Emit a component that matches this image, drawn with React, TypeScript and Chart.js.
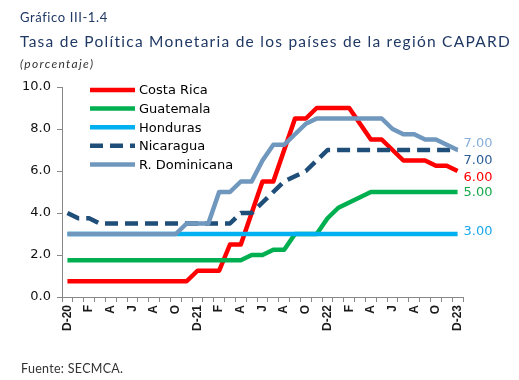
import React, { useEffect, useRef } from "react";
import { Chart, registerables } from "chart.js";

Chart.register(...registerables);

// ---------------- data ----------------
const categories = [
  "D-20", "E-21", "F-21", "M-21", "A-21", "M-21", "J-21", "J-21", "A-21", "S-21", "O-21", "N-21",
  "D-21", "E-22", "F-22", "M-22", "A-22", "M-22", "J-22", "J-22", "A-22", "S-22", "O-22", "N-22",
  "D-22", "E-23", "F-23", "M-23", "A-23", "M-23", "J-23", "J-23", "A-23", "S-23", "O-23", "N-23",
  "D-23",
];

const tickLabels = [
  "D-20", "", "F", "", "A", "", "J", "", "A", "", "O", "",
  "D-21", "", "F", "", "A", "", "J", "", "A", "", "O", "",
  "D-22", "", "F", "", "A", "", "J", "", "A", "", "O", "",
  "D-23",
];

const seriesNames = ["Costa Rica", "Guatemala", "Honduras", "Nicaragua", "R. Dominicana"];

const costaRica = [
  0.75, 0.75, 0.75, 0.75, 0.75, 0.75, 0.75, 0.75, 0.75, 0.75, 0.75, 0.75,
  1.25, 1.25, 1.25, 2.5, 2.5, 4.0, 5.5, 5.5, 7.0, 8.5, 8.5, 9.0,
  9.0, 9.0, 9.0, 8.25, 7.5, 7.5, 7.0, 6.5, 6.5, 6.5, 6.25, 6.25,
  6.0,
];

const guatemala = [
  1.75, 1.75, 1.75, 1.75, 1.75, 1.75, 1.75, 1.75, 1.75, 1.75, 1.75, 1.75,
  1.75, 1.75, 1.75, 1.75, 1.75, 2.0, 2.0, 2.25, 2.25, 3.0, 3.0, 3.0,
  3.75, 4.25, 4.5, 4.75, 5.0, 5.0, 5.0, 5.0, 5.0, 5.0, 5.0, 5.0,
  5.0,
];

const honduras = [
  3.0, 3.0, 3.0, 3.0, 3.0, 3.0, 3.0, 3.0, 3.0, 3.0, 3.0, 3.0,
  3.0, 3.0, 3.0, 3.0, 3.0, 3.0, 3.0, 3.0, 3.0, 3.0, 3.0, 3.0,
  3.0, 3.0, 3.0, 3.0, 3.0, 3.0, 3.0, 3.0, 3.0, 3.0, 3.0, 3.0,
  3.0,
];

const nicaragua = [
  4.0, 3.75, 3.75, 3.5, 3.5, 3.5, 3.5, 3.5, 3.5, 3.5, 3.5, 3.5,
  3.5, 3.5, 3.5, 3.5, 4.0, 4.0, 4.5, 5.0, 5.5, 5.75, 6.0, 6.5,
  7.0, 7.0, 7.0, 7.0, 7.0, 7.0, 7.0, 7.0, 7.0, 7.0, 7.0, 7.0,
  7.0,
];

const rDominicana = [
  3.0, 3.0, 3.0, 3.0, 3.0, 3.0, 3.0, 3.0, 3.0, 3.0, 3.0, 3.5,
  3.5, 3.5, 5.0, 5.0, 5.5, 5.5, 6.5, 7.25, 7.25, 7.75, 8.25, 8.5,
  8.5, 8.5, 8.5, 8.5, 8.5, 8.5, 8.0, 7.75, 7.75, 7.5, 7.5, 7.25,
  7.0,
];

const seriesValues = [costaRica, guatemala, honduras, nicaragua, rDominicana];

const yMin = 0;
const yMax = 10;
const yStep = 2;

const titleSmall = "Gráfico III-1.4";
const titleMain = "Tasa de Política Monetaria de los países de la región CAPARD";
const subtitle = "(porcentaje)";
const source = "Fuente: SECMCA.";

// ---------------- styles ----------------
const seriesStyles = [
  { color: "#FF0000", labelColor: "#FF0000", dash: [] as number[], labelDy: 7, order: 5 },
  { color: "#00B050", labelColor: "#16A84A", dash: [] as number[], labelDy: 1, order: 4 },
  { color: "#00B0F0", labelColor: "#1AA7EC", dash: [] as number[], labelDy: -2, order: 3 },
  { color: "#1F4E79", labelColor: "#2A5C99", dash: [13, 7], labelDy: 11, order: 2 },
  { color: "#7097BD", labelColor: "#86AEDB", dash: [] as number[], labelDy: -6, order: 1 },
];

const TITLE_COLOR = "#1F3864";

function fitText(ctx: CanvasRenderingContext2D, text: string, x: number, y: number, width: number, font: string, color: string) {
  ctx.font = font;
  (ctx as any).letterSpacing = "0px";
  const w0 = ctx.measureText(text).width;
  const ls = (width - w0) / Math.max(text.length - 1, 1);
  (ctx as any).letterSpacing = `${ls}px`;
  ctx.fillStyle = color;
  ctx.textAlign = "left";
  ctx.textBaseline = "alphabetic";
  ctx.fillText(text, x, y);
  (ctx as any).letterSpacing = "0px";
}

const overlayPlugin = {
  id: "overlayTexts",
  afterDraw(chart: any) {
    const ctx: CanvasRenderingContext2D = chart.ctx;
    ctx.save();

    // titles
    fitText(ctx, titleSmall, 20, 22, 87, "13px Lato", TITLE_COLOR);
    fitText(ctx, titleMain, 20, 47, 490, "15.5px Lato", TITLE_COLOR);
    fitText(ctx, subtitle, 20, 68, 73, "italic 12px Lato", "#333333");
    fitText(ctx, source, 21, 373, 102, "12.5px Lato", "#333333");

    // legend
    const legendX0 = 90;
    const legendX1 = 135;
    const legendTextX = 139;
    const legendY0 = 90;
    const legendRow = 18.6;
    chart.data.datasets.forEach((ds: any, i: number) => {
      const y = legendY0 + i * legendRow;
      const st = seriesStyles[i];
      ctx.beginPath();
      ctx.setLineDash(st.dash);
      ctx.lineWidth = 4.5;
      ctx.lineCap = "butt";
      ctx.strokeStyle = st.color;
      ctx.moveTo(legendX0, y);
      ctx.lineTo(legendX1, y);
      ctx.stroke();
      ctx.setLineDash([]);
      ctx.font = "13px 'DejaVu Sans'";
      ctx.fillStyle = "#000000";
      ctx.textAlign = "left";
      ctx.textBaseline = "middle";
      ctx.fillText(ds.label, legendTextX, y + 1);
    });

    // end-value labels
    const xs = chart.scales.x;
    const ys = chart.scales.y;
    chart.data.datasets.forEach((ds: any, i: number) => {
      const st = seriesStyles[i];
      const last = ds.data.length - 1;
      const v = ds.data[last];
      const px = xs.getPixelForValue(last) + 6;
      const py = ys.getPixelForValue(v) + st.labelDy;
      ctx.font = "13px 'DejaVu Sans'";
      ctx.fillStyle = st.labelColor;
      ctx.textAlign = "left";
      ctx.textBaseline = "middle";
      ctx.fillText(Number(v).toFixed(2), px, py);
    });

    ctx.restore();
  },
};

export default function App() {
  const canvasRef = useRef<HTMLCanvasElement | null>(null);

  useEffect(() => {
    const canvas = canvasRef.current;
    if (!canvas) return;

    const datasets = seriesValues.map((vals, i) => ({
      label: seriesNames[i],
      data: vals,
      borderColor: seriesStyles[i].color,
      backgroundColor: seriesStyles[i].color,
      borderWidth: 4.5,
      borderDash: seriesStyles[i].dash,
      borderCapStyle: "butt" as const,
      borderJoinStyle: "round" as const,
      pointRadius: 0,
      tension: 0,
      fill: false,
      order: seriesStyles[i].order,
    }));

    const chart = new Chart(canvas, {
      type: "line",
      data: { labels: categories, datasets },
      options: {
        responsive: false,
        animation: false,
        devicePixelRatio: 1,
        layout: { padding: { left: 0, top: 87, right: 56, bottom: 0 } },
        plugins: {
          legend: { display: false },
          tooltip: { enabled: false },
          title: { display: false },
        },
        scales: {
          x: {
            type: "category",
            offset: true,
            grid: {
              offset: true,
              drawOnChartArea: false,
              drawTicks: true,
              tickLength: 5,
              color: "#888888",
            },
            border: { color: "#888888", width: 1 },
            ticks: {
              autoSkip: false,
              minRotation: 90,
              maxRotation: 90,
              padding: 3,
              color: "#1a1a1a",
              font: { family: "'Liberation Sans', Arial, sans-serif", size: 12, weight: "bold" },
              callback: (_v: any, i: number) => tickLabels[i],
            },
            afterFit: (s: any) => {
              s.height = 83;
            },
          },
          y: {
            min: yMin,
            max: yMax,
            grid: {
              drawOnChartArea: false,
              drawTicks: true,
              tickLength: 5,
              color: "#888888",
            },
            border: { color: "#888888", width: 1 },
            ticks: {
              stepSize: yStep,
              padding: 6,
              color: "#111111",
              font: { family: "'DejaVu Sans'", size: 13 },
              callback: (v: any) => Number(v).toFixed(1),
            },
            afterFit: (s: any) => {
              s.width = 62;
            },
          },
        },
      },
      plugins: [overlayPlugin],
    } as any);

    return () => {
      chart.destroy();
    };
  }, []);

  return (
    <div
      style={{
        position: "absolute",
        left: 0,
        top: 0,
        width: 519,
        height: 380,
        background: "#ffffff",
      }}
    >
      <canvas ref={canvasRef} width={519} height={380} style={{ display: "block", width: 519, height: 380 }} />
    </div>
  );
}
